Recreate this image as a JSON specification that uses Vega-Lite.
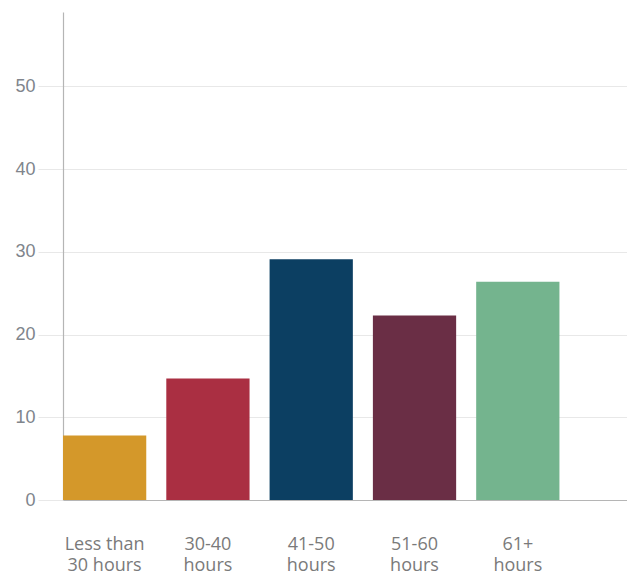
{
  "$schema": "https://vega.github.io/schema/vega-lite/v6.json",
  "width": 564,
  "height": 488,
  "autosize": {"type": "none"},
  "padding": {"left": 63, "top": 12, "right": 0, "bottom": 73},
  "background": "white",
  "config": {
    "view": {"stroke": null},
    "axis": {"labelFont": "Open Sans", "labelColor": "#7a7a7a"}
  },
  "data": {
    "values": [
      {"hours": "Less than 30 hours", "share": 7.8, "color": "#d4982a"},
      {"hours": "30-40 hours", "share": 14.7, "color": "#aa2f42"},
      {"hours": "41-50 hours", "share": 29.1, "color": "#0c3f62"},
      {"hours": "51-60 hours", "share": 22.3, "color": "#6a2e45"},
      {"hours": "61+ hours", "share": 26.4, "color": "#74b48e"}
    ]
  },
  "mark": {"type": "bar"},
  "encoding": {
    "x": {
      "field": "hours",
      "type": "nominal",
      "sort": null,
      "title": null,
      "scale": {"paddingInner": 0.194, "paddingOuter": 0.327, "align": 0},
      "axis": {
        "labelExpr": "split(datum.label === 'Less than 30 hours' ? 'Less than|30 hours' : replace(datum.label, ' hours', '|hours'), '|')",
        "labelAngle": 0,
        "labelFontSize": 18,
        "labelLineHeight": 21,
        "labelPadding": 35,
        "ticks": false,
        "domainColor": "#b5b5b5",
        "domainWidth": 1.2,
        "grid": false
      }
    },
    "y": {
      "field": "share",
      "type": "quantitative",
      "title": null,
      "scale": {"domain": [0, 59], "nice": false, "zero": true},
      "axis": {
        "values": [0, 10, 20, 30, 40, 50],
        "labelFont": "Liberation Sans",
        "labelFontSize": 18,
        "labelColor": "#80858c",
        "labelPadding": 3,
        "tickSize": 25,
        "tickColor": "#e8e8e8",
        "gridColor": "#e8e8e8",
        "domainColor": "#b5b5b5",
        "domainWidth": 1.2
      }
    },
    "color": {"field": "color", "type": "nominal", "scale": null, "legend": null}
  }
}
